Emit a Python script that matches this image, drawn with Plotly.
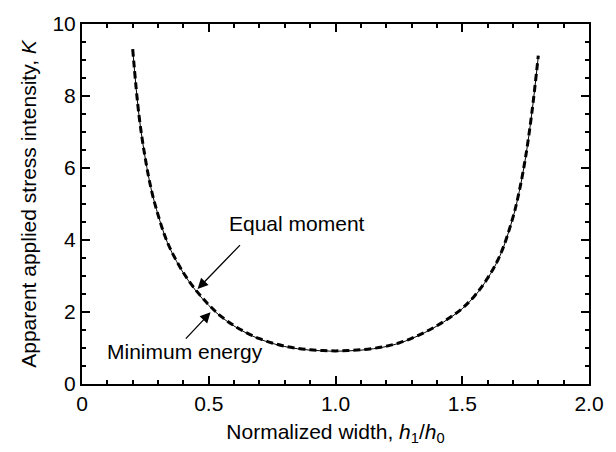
import plotly.graph_objects as go

# Normalized width h1/h0
h_ratio = [0.20, 0.225, 0.25, 0.275, 0.30, 0.325, 0.35, 0.40, 0.45, 0.50, 0.55, 0.60,
           0.65, 0.70, 0.75, 0.80, 0.85, 0.90, 0.95, 1.00, 1.05, 1.10, 1.15, 1.20,
           1.25, 1.30, 1.35, 1.40, 1.45, 1.50, 1.55, 1.60, 1.65, 1.70, 1.725, 1.75,
           1.775, 1.80]
# Apparent applied stress intensity, minimum energy (thin solid)
k_min_energy = [9.30, 7.45, 6.25, 5.35, 4.70, 4.15, 3.72, 3.08, 2.58, 2.18, 1.86, 1.61,
                1.41, 1.25, 1.13, 1.04, 0.98, 0.94, 0.92, 0.91, 0.92, 0.94, 0.98, 1.04,
                1.13, 1.26, 1.42, 1.61, 1.83, 2.09, 2.45, 2.93, 3.58, 4.62, 5.35, 6.30,
                7.55, 9.10]
# Apparent applied stress intensity, equal moment (thick dashed)
k_equal_moment = [9.30, 7.45, 6.25, 5.35, 4.70, 4.15, 3.73, 3.09, 2.60, 2.20, 1.87, 1.62,
                  1.42, 1.26, 1.14, 1.05, 0.99, 0.95, 0.93, 0.92, 0.93, 0.95, 0.99, 1.05,
                  1.14, 1.27, 1.43, 1.62, 1.84, 2.10, 2.46, 2.94, 3.59, 4.63, 5.36, 6.31,
                  7.56, 9.12]

x_tick_vals = [0, 0.5, 1.0, 1.5, 2.0]
x_tick_text = ["0", "0.5", "1.0", "1.5", "2.0"]
y_tick_vals = [0, 2, 4, 6, 8, 10]
y_tick_text = ["0", "2", "4", "6", "8", "10"]

FONT = "Liberation Sans, Arial, Helvetica, sans-serif"
FS = 21

fig = go.Figure()
fig.add_trace(go.Scatter(
    x=h_ratio, y=k_min_energy, mode="lines", line=dict(color="black", width=1, shape="spline"),
    showlegend=False, hoverinfo="skip"))
fig.add_trace(go.Scatter(
    x=h_ratio, y=k_equal_moment, mode="lines",
    line=dict(color="black", width=3, dash="7px,4px", shape="spline"),
    showlegend=False, hoverinfo="skip"))

axis_common = dict(
    showline=True, linecolor="black", linewidth=2, mirror="allticks",
    ticks="inside", ticklen=8, tickwidth=2, tickcolor="black",
    showgrid=False, zeroline=False,
    tickfont=dict(family=FONT, size=FS, color="black"),
)

fig.update_xaxes(
    range=[0, 2.0], tickmode="array", tickvals=x_tick_vals, ticktext=x_tick_text,
    minor=dict(dtick=0.1, ticks="inside", ticklen=4, tickwidth=1.5, tickcolor="black"),
    title=dict(text="Normalized width, <i>h</i><sub>1</sub>/<i>h</i><sub>0</sub>",
               font=dict(family=FONT, size=FS, color="black"), standoff=10),
    **axis_common)
fig.update_yaxes(
    range=[0, 10], tickmode="array", tickvals=y_tick_vals, ticktext=y_tick_text,
    minor=dict(dtick=0.5, ticks="inside", ticklen=4, tickwidth=1.5, tickcolor="black"),
    title=dict(text="Apparent applied stress intensity, <i>K</i>",
               font=dict(family=FONT, size=FS, color="black"), standoff=10),
    **axis_common)

fig.add_annotation(x=0.849, y=4.47, xref="x", yref="y", text="Equal moment",
                   showarrow=False, font=dict(family=FONT, size=FS, color="black"))
fig.add_annotation(x=0.456, y=2.64, ax=0.629, ay=3.90, xref="x", yref="y",
                   axref="x", ayref="y", text="", showarrow=True, arrowhead=2,
                   arrowsize=1.6, arrowwidth=1.3, arrowcolor="black", standoff=0)
fig.add_annotation(x=0.405, y=0.89, xref="x", yref="y", text="Minimum energy",
                   showarrow=False, font=dict(family=FONT, size=FS, color="black"))
fig.add_annotation(x=0.507, y=1.99, ax=0.404, ay=1.22, xref="x", yref="y",
                   axref="x", ayref="y", text="", showarrow=True, arrowhead=2,
                   arrowsize=1.6, arrowwidth=1.3, arrowcolor="black", standoff=0)

fig.update_layout(
    width=616, height=452,
    margin=dict(l=82, r=16, t=18, b=68),
    paper_bgcolor="white", plot_bgcolor="white",
    font=dict(family=FONT, size=FS, color="black"),
)

fig.write_html("out.html")
